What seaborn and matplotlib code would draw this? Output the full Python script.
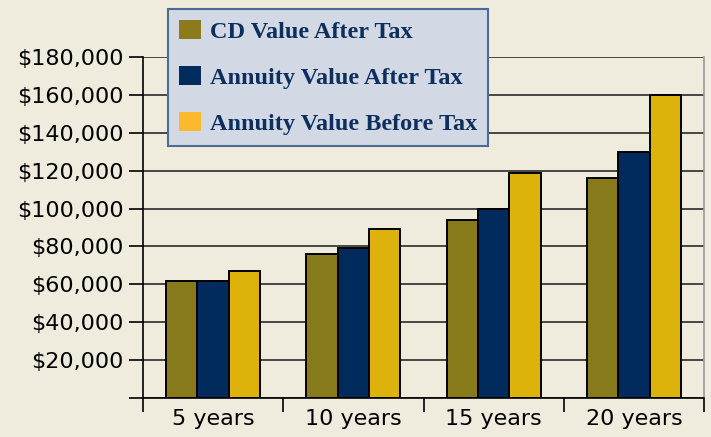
import matplotlib
matplotlib.use("Agg")
import matplotlib.pyplot as plt
import seaborn as sns
import pandas as pd
from matplotlib.patches import Patch
from matplotlib.ticker import FuncFormatter, FixedLocator

categories = ["5 years", "10 years", "15 years", "20 years"]
series = ["CD Value After Tax", "Annuity Value After Tax", "Annuity Value Before Tax"]
cd_after = [62000, 76000, 94000, 116000]
annuity_after = [62000, 79000, 100000, 130000]
annuity_before = [67000, 89000, 119000, 160000]
y_ticks = [0, 20000, 40000, 60000, 80000, 100000, 120000, 140000, 160000, 180000]

bar_colors = ["#877A1B", "#002B5C", "#DDB20A"]
legend_colors = ["#8A7B1C", "#002B5C", "#FDB92E"]

rows = []
for s, vals in zip(series, [cd_after, annuity_after, annuity_before]):
    for c, v in zip(categories, vals):
        rows.append({"Period": c, "Series": s, "Value": v})
df = pd.DataFrame(rows)

sns.set_style("white")
plt.rcParams["font.family"] = ["DejaVu Sans"]

bg = "#F0ECDD"
fig = plt.figure(figsize=(7.11, 4.37), dpi=100, facecolor=bg)
ax = fig.add_axes([143 / 711, 1 - 398 / 437, (704 - 143) / 711, (398 - 57) / 437])
ax.set_facecolor(bg)

sns.barplot(data=df, x="Period", y="Value", hue="Series", order=categories,
            hue_order=series, palette=bar_colors, width=0.67, gap=0,
            edgecolor="black", linewidth=1.4, saturation=1, ax=ax, zorder=3)

ax.set_ylim(0, 180000)
ax.set_xlim(-0.5, len(categories) - 0.5)
ax.yaxis.set_major_locator(FixedLocator(y_ticks))
ax.yaxis.set_major_formatter(FuncFormatter(lambda v, p: "" if v == 0 else f"${v:,.0f}"))
ax.grid(axis="y", color="#2a2a2a", linewidth=1.2, zorder=0)
ax.set_axisbelow(True)

ax.set_xlabel("")
ax.set_ylabel("")
ax.tick_params(axis="y", which="major", direction="out", length=10, width=1.2,
               color="black", labelsize=16, pad=4, left=True, labelcolor="black")
ax.tick_params(axis="x", which="major", length=0, labelsize=16, pad=8, labelcolor="black")
ax.set_xticks([i - 0.5 for i in range(len(categories) + 1)], minor=True)
ax.tick_params(axis="x", which="minor", direction="out", length=10, width=1.2,
               color="black", bottom=True)

for side in ["left", "bottom"]:
    ax.spines[side].set_visible(True)
    ax.spines[side].set_color("black")
    ax.spines[side].set_linewidth(1.2)
ax.spines["top"].set_visible(False)
ax.spines["right"].set_visible(True)
ax.spines["right"].set_color("#9a9a9a")
ax.spines["right"].set_linewidth(1.2)

if ax.get_legend() is not None:
    ax.get_legend().remove()

handles = [Patch(facecolor=c, edgecolor="none", label=s) for c, s in zip(legend_colors, series)]
leg = fig.legend(handles=handles, loc="upper left",
                 bbox_to_anchor=(168 / 711, 1 - 9 / 437),
                 frameon=True, fancybox=False, shadow=False,
                 prop={"family": "Liberation Serif", "weight": "bold", "size": 17.5},
                 handlelength=0.9, handleheight=0.82, handletextpad=0.38,
                 labelspacing=0.95, borderpad=0.45, borderaxespad=0)
leg.get_frame().set_facecolor("#D3D8E5")
leg.get_frame().set_edgecolor("#4A6C96")
leg.get_frame().set_linewidth(1.5)
leg.get_frame().set_alpha(1)
for t in leg.get_texts():
    t.set_color("#0D2F5E")

fig.savefig("out.png", dpi=100, facecolor=bg)
